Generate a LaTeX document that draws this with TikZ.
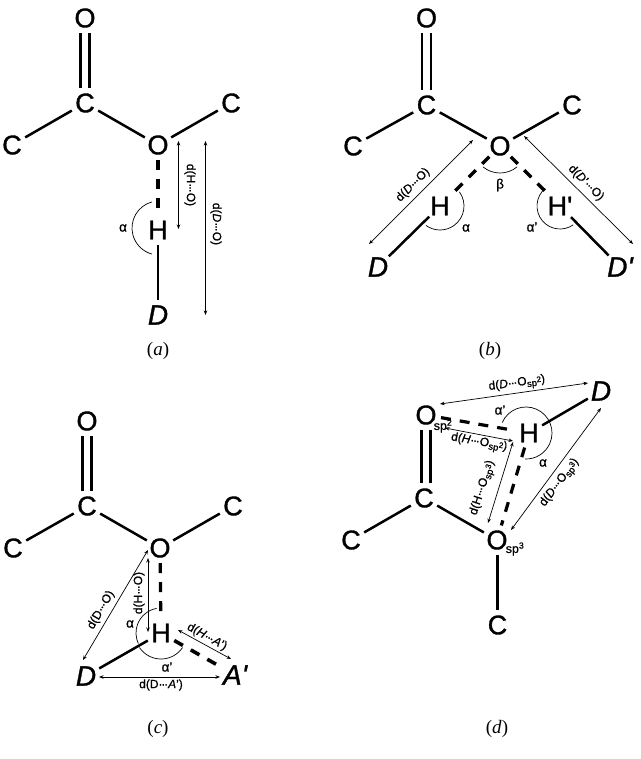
\documentclass[tikz,border=0pt]{standalone}
\usepackage{fontspec}
\setmainfont[RawFeature={embolden=0.7}]{Liberation Sans}
\newfontfamily\capfont{Liberation Serif}
\newfontfamily\atomfont[RawFeature={embolden=1.2}]{Liberation Sans}
\usetikzlibrary{arrows.meta}
\tikzset{
 x=1pt,y=-1pt,
 atom/.style={circle,minimum size=30pt,inner sep=0pt,font=\atomfont\fontsize{27}{27}\selectfont},
 donor/.style={atom,font=\atomfont\fontsize{28}{28}\selectfont\itshape},
 bond/.style={line width=2.5pt},
 hbond/.style={line width=3.2pt,dash pattern=on 10pt off 9pt},
 dist/.style={line width=0.7pt,{Stealth[length=4.5pt,width=3.5pt]}-{Stealth[length=4.5pt,width=3.5pt]}},
 ang/.style={line width=0.7pt},
 lab/.style={inner sep=0pt,font=\fontsize{12}{12}\selectfont},
 spsub/.style={inner sep=0pt,font=\fontsize{12.5}{12.5}\selectfont},
 greek/.style={inner sep=0pt,font=\fontsize{13.5}{13.5}\selectfont},
 figcap/.style={inner sep=0pt,font=\capfont\fontsize{19}{19}\selectfont},
}
\newcommand{\ddd}{·\kern-1.2pt·\kern-1.2pt·}
\newcommand{\spx}[1]{\raisebox{-2.5pt}{\fontsize{9.5}{9.5}\selectfont sp\raisebox{3.5pt}{\fontsize{8}{8}\selectfont #1}}}
\begin{document}
\begin{tikzpicture}
\useasboundingbox (0,0) rectangle (640,759);
\fill[white] (0,0) rectangle (640,759);
% ---------- (a)
\node[atom] (aO1) at (85,18) {O};
\node[atom] (aC1) at (85,103) {C};
\node[atom] (aC2) at (12,145) {C};
\node[atom] (aO2) at (158,145) {O};
\node[atom] (aC3) at (231,103) {C};
\node[atom] (aH) at (158,230) {H};
\node[donor] (aD) at (158,315) {D};
\draw[bond] ([xshift=-4.5pt]aO1.south) -- ([xshift=-4.5pt]aC1.north);
\draw[bond] ([xshift=4.5pt]aO1.south) -- ([xshift=4.5pt]aC1.north);
\draw[bond] (aC1) -- (aC2);
\draw[bond] (aC1) -- (aO2);
\draw[bond] (aO2) -- (aC3);
\draw[hbond] (aO2) -- (aH);
\draw[bond] (aH) -- (aD);
\draw[ang] ([xshift=1pt,yshift=2pt]aH.center) ++(105:27pt) arc[start angle=105,end angle=255,radius=27pt];
\node[greek] (aa) at (123,228) {α};
\coordinate (ah1) at (178.5,141); \coordinate (ah2) at (178.5,229);
\coordinate (ad1) at (205.5,141); \coordinate (ad2) at (205.5,315);
\draw[dist] (ah1) -- (ah2);
\draw[dist] (ad1) -- (ad2);
\node[lab,rotate=-90] (alh) at (190,185) {d(H\ddd O)};
\node[lab,rotate=-90] (ald) at (216,224) {d(\textit{D}\ddd O)};
\node[figcap] (capa) at (158,351) {(\textit{a})};
% ---------- (b)
\node[atom] (bO1) at (426.5,18) {O};
\node[atom] (bC1) at (426.5,105) {C};
\node[atom] (bC2) at (353,146) {C};
\node[atom] (bO2) at (500,146) {O};
\node[atom] (bC3) at (572,105) {C};
\node[atom] (bH) at (440,206) {H};
\node[atom] (bHp) at (560,206) {H'};
\node[donor] (bD) at (378,267) {D};
\node[donor] (bDp) at (620,267) {D'};
\draw[bond] ([xshift=-4.5pt]bO1.south) -- ([xshift=-4.5pt]bC1.north);
\draw[bond] ([xshift=4.5pt]bO1.south) -- ([xshift=4.5pt]bC1.north);
\draw[bond] (bC1) -- (bC2);
\draw[bond] (bC1) -- (bO2);
\draw[bond] (bO2) -- (bC3);
\draw[hbond] (bO2) -- (bH);
\draw[hbond] (bO2) -- (bHp);
\draw[bond] (bH) -- (bD);
\draw[bond] (bHp) -- (bDp);
\draw[ang] (bO2.center) ++(231:27pt) arc[start angle=231,end angle=309,radius=27pt];
\draw[ang] (bH.center) ++(36:24pt) arc[start angle=36,end angle=-126,radius=24pt];
\draw[ang] (bHp.center) ++(130:23pt) arc[start angle=130,end angle=305,radius=23pt];
\node[greek] (bb) at (500,185) {β};
\node[greek] (ba) at (466,228) {α};
\node[greek] (bap) at (532,227) {α'};
\coordinate (bd1) at (473,140); \coordinate (bd2) at (369,244);
\coordinate (bd3) at (524,136); \coordinate (bd4) at (633,244);
\draw[dist] (bd1) -- (bd2);
\draw[dist] (bd3) -- (bd4);
\node[lab,rotate=45] (bl1) at (413,185) {d(\textit{D}\ddd O)};
\node[lab,rotate=-45] (bl2) at (586,183) {d(\textit{D}'\ddd O)};
\node[figcap] (capb) at (490,351) {(\textit{b})};
% ---------- (c)
\node[atom] (cO1) at (87,421) {O};
\node[atom] (cC1) at (87,506) {C};
\node[atom] (cC2) at (13,548) {C};
\node[atom] (cO2) at (160,548) {O};
\node[atom] (cC3) at (233,506) {C};
\node[atom] (cH) at (161,633) {H};
\node[donor] (cD) at (86,676) {D};
\node[donor] (cA) at (235,675) {A'};
\draw[bond] ([xshift=-4.5pt]cO1.south) -- ([xshift=-4.5pt]cC1.north);
\draw[bond] ([xshift=4.5pt]cO1.south) -- ([xshift=4.5pt]cC1.north);
\draw[bond] (cC1) -- (cC2);
\draw[bond] (cC1) -- (cO2);
\draw[bond] (cO2) -- (cC3);
\draw[hbond] (cO2) -- (cH);
\draw[bond] (cH) -- (cD);
\draw[hbond,line width=3.6pt] (cH) -- (cA);
\draw[ang] (cH.center) ++(100:25pt) arc[start angle=100,end angle=205,radius=25pt];
\draw[ang] (cH.center) ++(214:26pt) arc[start angle=214,end angle=326,radius=26pt];
\node[greek] (ca) at (130,624) {α};
\node[greek] (cap2) at (167,667) {α'};
\coordinate (cd1) at (148,550); \coordinate (cd2) at (83,660);
\coordinate (cd3) at (148,558); \coordinate (cd4) at (148,632);
\coordinate (cd5) at (178,630); \coordinate (cd6) at (231,659);
\coordinate (cd7) at (99,677); \coordinate (cd8) at (220,677);
\draw[dist] (cd1) -- (cd2);
\draw[dist] (cd3) -- (cd4);
\draw[dist] (cd5) -- (cd6);
\draw[dist] (cd7) -- (cd8);
\node[lab,rotate=60] (cl1) at (101,610) {d(D\ddd O)};
\node[lab,rotate=90] (cl2) at (139,593) {d(H\ddd O)};
\node[lab,rotate=-29] (cl3) at (207,637) {d(\textit{H}\ddd \textit{A}')};
\node[lab] (cl4) at (161,685) {d(D\ddd \textit{A}')};
\node[figcap] (capc) at (158,729) {(\textit{c})};
% ---------- (d)
\node[atom] (dO1) at (426,415) {O};
\node[spsub] (dsp2) at (443,426) {sp\textsuperscript{2}};
\node[atom] (dC1) at (424,498) {C};
\node[atom] (dC2) at (351,540) {C};
\node[atom] (dO2) at (497,540) {O};
\node[spsub] (dsp3) at (515,549) {sp\textsuperscript{3}};
\node[atom] (dC3) at (497.5,625) {C};
\node[atom] (dH) at (529,433) {H};
\node[donor] (dD) at (601,391) {D};
\draw[bond] ([xshift=-4.5pt]dO1.south) -- ([xshift=-4.5pt]dO1.south |- dC1.north);
\draw[bond] ([xshift=4.5pt]dO1.south) -- ([xshift=4.5pt]dO1.south |- dC1.north);
\draw[bond] (dC1) -- (dC2);
\draw[bond] (dC1) -- (dO2);
\draw[bond] (dO2.south -| dC3.north) -- (dC3.north);
\draw[bond] (dH) -- (dD);
\draw[hbond] (dO1) -- (dH);
\draw[hbond] (dH) -- (dO2);
\draw[ang] ([xshift=-3pt]dH.center) ++(156:26pt) arc[start angle=156,end angle=-92,radius=26pt];
\node[greek] (dap) at (500,410) {α'};
\node[greek] (da) at (543,463) {α};
\coordinate (dd1) at (440,404); \coordinate (dd2) at (588,383);
\coordinate (dd3) at (445,428); \coordinate (dd4) at (513,441);
\coordinate (dd5) at (513,442); \coordinate (dd6) at (488,523);
\coordinate (dd7) at (601,408); \coordinate (dd8) at (511,530);
\draw[dist] (dd1) -- (dd2);
\draw[dist] (dd3) -- (dd4);
\draw[dist] (dd5) -- (dd6);
\draw[dist] (dd7) -- (dd8);
\node[lab,rotate=8] (dl1) at (517,384) {d(\textit{D}\ddd O\spx{2})};
\node[lab,rotate=-10] (dl2) at (479,443) {d(\textit{H}\ddd O\spx{2})};
\node[lab,rotate=72] (dl3) at (483,488) {d(H\ddd O\spx{3})};
\node[lab,rotate=53] (dl4) at (560,483) {d(\textit{D}\ddd O\spx{3})};
\node[figcap] (capd) at (497,729) {(\textit{d})};
\end{tikzpicture}
\end{document}
